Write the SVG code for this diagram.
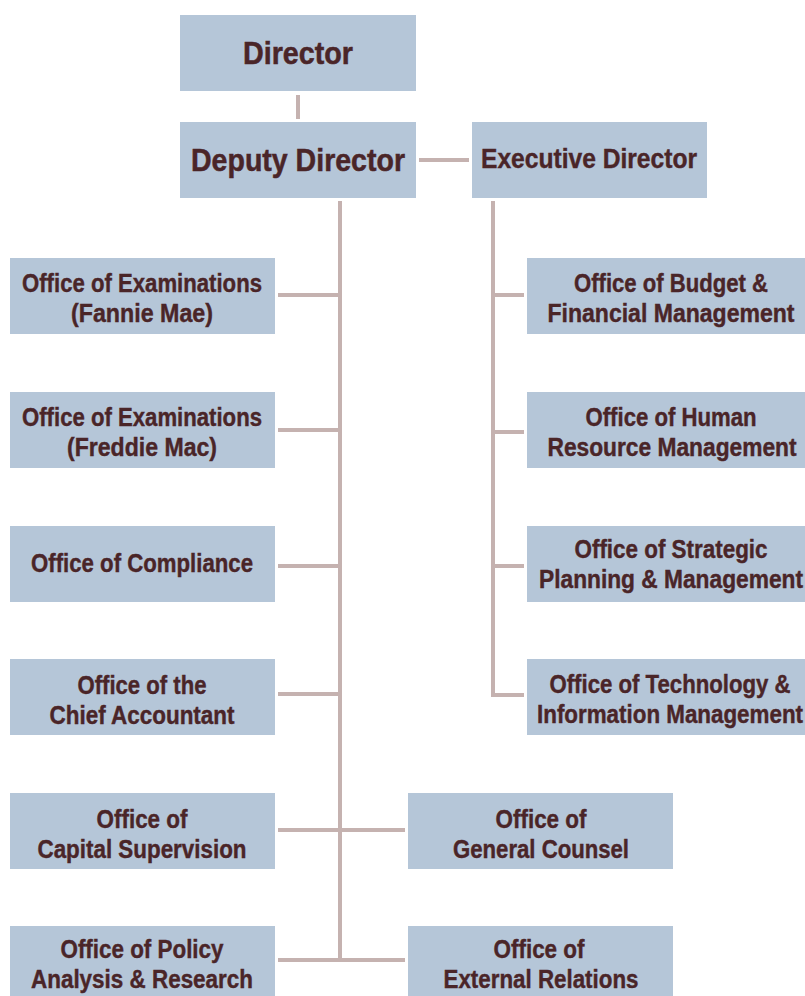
<svg xmlns="http://www.w3.org/2000/svg" width="805" height="996" viewBox="0 0 805 996">
<style>
.box{fill:#b5c6d8;}
.t{font-family:"Liberation Sans Narrow","Liberation Sans","DejaVu Sans Condensed",sans-serif;font-weight:bold;fill:#4a2528;stroke:#4a2528;stroke-width:0.4;text-anchor:middle;font-size:25px;}
.big{font-size:32px;stroke-width:0.5;}
.mid{font-size:28px;}
.c{stroke:#c5b2b0;stroke-width:4;fill:none;}
</style>
<rect width="805" height="996" fill="#ffffff"/>
<g id="connectors">
<line class="c" x1="298" y1="95" x2="298" y2="119"/>
<line class="c" x1="419" y1="160" x2="469" y2="160"/>
<line class="c" x1="340" y1="201" x2="340" y2="962"/>
<line class="c" x1="278" y1="295" x2="340" y2="295"/>
<line class="c" x1="278" y1="430" x2="340" y2="430"/>
<line class="c" x1="278" y1="566" x2="340" y2="566"/>
<line class="c" x1="278" y1="694" x2="340" y2="694"/>
<line class="c" x1="278" y1="830" x2="405" y2="830"/>
<line class="c" x1="278" y1="960" x2="405" y2="960"/>
<polyline class="c" points="493,201 493,695 524,695"/>
<line class="c" x1="493" y1="295" x2="524" y2="295"/>
<line class="c" x1="493" y1="432" x2="524" y2="432"/>
<line class="c" x1="493" y1="566" x2="524" y2="566"/>
</g>
<g id="director">
<rect class="box" x="180" y="15" width="236" height="76"/>
<text class="t big" x="298" y="64" textLength="110" lengthAdjust="spacingAndGlyphs">Director</text>
</g>
<g id="deputy-director">
<rect class="box" x="180" y="122" width="236" height="76"/>
<text class="t big" x="298" y="171" textLength="214" lengthAdjust="spacingAndGlyphs">Deputy Director</text>
</g>
<g id="executive-director">
<rect class="box" x="472" y="122" width="235" height="76"/>
<text class="t mid" x="589" y="168" textLength="216" lengthAdjust="spacingAndGlyphs">Executive Director</text>
</g>
<g id="exam-fannie">
<rect class="box" x="10" y="258" width="265" height="76"/>
<text class="t" x="142" y="292" textLength="240" lengthAdjust="spacingAndGlyphs">Office of Examinations</text>
<text class="t" x="142" y="322" textLength="142" lengthAdjust="spacingAndGlyphs">(Fannie Mae)</text>
</g>
<g id="exam-freddie">
<rect class="box" x="10" y="392" width="265" height="76"/>
<text class="t" x="142" y="426" textLength="240" lengthAdjust="spacingAndGlyphs">Office of Examinations</text>
<text class="t" x="142" y="456" textLength="150" lengthAdjust="spacingAndGlyphs">(Freddie Mac)</text>
</g>
<g id="compliance">
<rect class="box" x="10" y="526" width="265" height="76"/>
<text class="t" x="142" y="572" textLength="222" lengthAdjust="spacingAndGlyphs">Office of Compliance</text>
</g>
<g id="chief-accountant">
<rect class="box" x="10" y="659" width="265" height="76"/>
<text class="t" x="142" y="694" textLength="129" lengthAdjust="spacingAndGlyphs">Office of the</text>
<text class="t" x="142" y="724" textLength="185" lengthAdjust="spacingAndGlyphs">Chief Accountant</text>
</g>
<g id="capital-supervision">
<rect class="box" x="10" y="793" width="265" height="76"/>
<text class="t" x="142" y="828" textLength="91" lengthAdjust="spacingAndGlyphs">Office of</text>
<text class="t" x="142" y="858" textLength="209" lengthAdjust="spacingAndGlyphs">Capital Supervision</text>
</g>
<g id="policy-analysis">
<rect class="box" x="10" y="926" width="265" height="70"/>
<text class="t" x="142" y="958" textLength="163" lengthAdjust="spacingAndGlyphs">Office of Policy</text>
<text class="t" x="142" y="988" textLength="222" lengthAdjust="spacingAndGlyphs">Analysis &amp; Research</text>
</g>
<g id="general-counsel">
<rect class="box" x="408" y="793" width="265" height="76"/>
<text class="t" x="541" y="828" textLength="91" lengthAdjust="spacingAndGlyphs">Office of</text>
<text class="t" x="541" y="858" textLength="176" lengthAdjust="spacingAndGlyphs">General Counsel</text>
</g>
<g id="external-relations">
<rect class="box" x="408" y="926" width="265" height="70"/>
<text class="t" x="539" y="958" textLength="91" lengthAdjust="spacingAndGlyphs">Office of</text>
<text class="t" x="541" y="988" textLength="195" lengthAdjust="spacingAndGlyphs">External Relations</text>
</g>
<g id="budget">
<rect class="box" x="527" y="258" width="278" height="76"/>
<text class="t" transform="translate(671 0) scale(0.88 1)" x="0" y="292" textLength="220.5" lengthAdjust="spacingAndGlyphs">Office of Budget &amp;</text>
<text class="t" transform="translate(671 0) scale(0.88 1)" x="0" y="322" textLength="280.7" lengthAdjust="spacingAndGlyphs">Financial Management</text>
</g>
<g id="human-resources">
<rect class="box" x="527" y="392" width="278" height="76"/>
<text class="t" transform="translate(671 0) scale(0.88 1)" x="0" y="426" textLength="194.3" lengthAdjust="spacingAndGlyphs">Office of Human</text>
<text class="t" transform="translate(672 0) scale(0.88 1)" x="0" y="456" textLength="283" lengthAdjust="spacingAndGlyphs">Resource Management</text>
</g>
<g id="strategic-planning">
<rect class="box" x="527" y="526" width="278" height="76"/>
<text class="t" transform="translate(671 0) scale(0.88 1)" x="0" y="558" textLength="219.3" lengthAdjust="spacingAndGlyphs">Office of Strategic</text>
<text class="t" transform="translate(671 0) scale(0.88 1)" x="0" y="588" textLength="300" lengthAdjust="spacingAndGlyphs">Planning &amp; Management</text>
</g>
<g id="technology">
<rect class="box" x="527" y="659" width="278" height="76"/>
<text class="t" transform="translate(670 0) scale(0.88 1)" x="0" y="693" textLength="273.9" lengthAdjust="spacingAndGlyphs">Office of Technology &amp;</text>
<text class="t" transform="translate(670 0) scale(0.88 1)" x="0" y="723" textLength="302.3" lengthAdjust="spacingAndGlyphs">Information Management</text>
</g>
</svg>
